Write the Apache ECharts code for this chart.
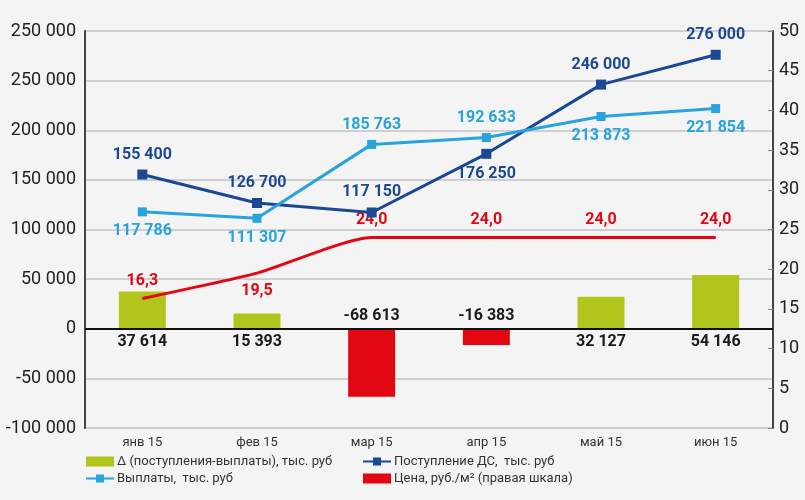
<!DOCTYPE html>
<html>

<head>
    <title>Поступления и выплаты</title>
    <meta charset="utf-8" />
    <script src="https://cdn.jsdelivr.net/npm/echarts@6/dist/echarts.min.js"></script>
    <style type="text/css">
        html,
        body {
            width: 100%;
            height: 100%;
            margin: 0;
            background: #f4f4f4;
        }

        #chart {
            width: 805px;
            height: 500px;
        }
    </style>
</head>

<body>
    <div id="chart"></div>
    <script>
        var categories = ['янв 15', 'фев 15', 'мар 15', 'апр 15', 'май 15', 'июн 15'];
        var delta = [37614, 15393, -68613, -16383, 32127, 54146];
        var inflow = [155400, 126700, 117150, 176250, 246000, 276000];
        var payments = [117786, 111307, 185763, 192633, 213873, 221854];
        var price = [16.3, 19.5, 24.0, 24.0, 24.0, 24.0];
        // labels of the left scale, bottom to top (the top one repeats in the source)
        var leftTicks = ['-100 000', '-50 000', '0', '50 000', '100 000', '150 000', '200 000', '250 000', '250 000'];
        // where each point's label sits
        var inflowPos = ['top', 'top', 'top', 'bottom', 'top', 'top'];
        var paymentsPos = ['bottom', 'bottom', 'top', 'top', 'bottom', 'bottom'];
        var pricePos = ['top', 'bottom', 'top', 'top', 'top', 'top'];

        var names = {
            delta: 'Δ (поступления-выплаты), тыс. руб',
            inflow: 'Поступление ДС,  тыс. руб',
            payments: 'Выплаты,  тыс. руб',
            price: 'Цена, руб./м² (правая шкала)'
        };

        var green = '#b2c51d', red = '#e30613', dark = '#1a4895', light = '#27a3dd';
        var font = 'Roboto, "Noto Sans", sans-serif';

        function fmt(v) {
            return String(v).replace(/\B(?=(\d{3})+(?!\d))/g, ' ');
        }

        function lineData(values, pos) {
            return values.map(function (v, i) {
                return { value: v, label: { position: pos[i] } };
            });
        }

        var chart = echarts.init(document.getElementById('chart'));

        var legendBase = {
            top: 455, orient: 'vertical', itemGap: 4, padding: 0,
            itemWidth: 28, itemHeight: 10,
            textStyle: { fontSize: 13, color: '#333', fontFamily: font, padding: [0, 0, 0, -2] }
        };

        var option = {
            backgroundColor: '#f4f4f4',
            textStyle: { fontFamily: font },
            animation: false,
            grid: { left: 85, right: 32, top: 31, bottom: 72 },
            legend: [Object.assign({}, legendBase, {
                left: 85,
                data: [
                    { name: names.delta, icon: 'rect', itemStyle: { color: green } },
                    { name: names.payments }
                ]
            }), Object.assign({}, legendBase, {
                left: 362,
                data: [
                    { name: names.inflow },
                    { name: names.price, icon: 'rect', itemStyle: { color: red } }
                ]
            })],
            xAxis: {
                type: 'category',
                data: categories,
                axisLine: { show: false },
                axisTick: { show: false },
                axisLabel: { color: '#333', fontSize: 13, margin: 8 }
            },
            yAxis: [{
                type: 'value',
                min: -100000, max: 300000, interval: 50000,
                axisLine: { show: true, lineStyle: { color: '#444', width: 2 } },
                axisTick: { show: false },
                splitLine: { lineStyle: { color: '#cfcfcf', width: 2 } },
                axisLabel: {
                    color: '#222', fontSize: 18, margin: 9,
                    formatter: function (v) {
                        return leftTicks[Math.round((v + 100000) / 50000)];
                    }
                }
            }, {
                type: 'value',
                min: 0, max: 50, interval: 5,
                position: 'right',
                axisLine: { show: true, lineStyle: { color: '#444', width: 2 } },
                axisTick: { show: true, inside: true, length: 5, lineStyle: { color: '#888' } },
                splitLine: { show: false },
                axisLabel: { color: '#222', fontSize: 18, margin: 6 }
            }],
            series: [{
                name: names.delta,
                type: 'bar',
                barWidth: 47,
                itemStyle: { color: green },
                data: delta.map(function (v) {
                    return {
                        value: v,
                        itemStyle: { color: v < 0 ? red : green },
                        label: { position: v < 0 ? 'top' : 'bottom' }
                    };
                }),
                label: {
                    show: true, color: '#1a1a1a', fontSize: 16, fontWeight: 'bold', distance: 5,
                    formatter: function (p) { return fmt(p.value); }
                },
                markLine: {
                    silent: true, symbol: 'none', label: { show: false },
                    lineStyle: { color: '#111', width: 2, type: 'solid' },
                    data: [{ yAxis: 0 }]
                },
                z: 2
            }, {
                name: names.inflow,
                type: 'line',
                data: lineData(inflow, inflowPos),
                symbol: 'rect', symbolSize: 10,
                lineStyle: { color: dark, width: 3 },
                itemStyle: { color: dark },
                label: {
                    show: true, color: dark, fontSize: 16, fontWeight: 'bold', distance: 7,
                    formatter: function (p) { return fmt(p.value); }
                },
                z: 4
            }, {
                name: names.payments,
                type: 'line',
                data: lineData(payments, paymentsPos),
                symbol: 'rect', symbolSize: 9,
                lineStyle: { color: light, width: 3 },
                itemStyle: { color: light },
                label: {
                    show: true, color: light, fontSize: 16, fontWeight: 'bold', distance: 7,
                    formatter: function (p) { return fmt(p.value); }
                },
                z: 4
            }, {
                name: names.price,
                type: 'line',
                yAxisIndex: 1,
                smooth: 0.2,
                data: lineData(price, pricePos),
                showSymbol: true,
                symbol: 'circle',
                symbolSize: 1,
                lineStyle: { color: red, width: 3 },
                itemStyle: { color: red },
                label: {
                    show: true, color: red, fontSize: 16, fontWeight: 'bold', distance: 9,
                    formatter: function (p) { return p.value.toFixed(1).replace('.', ','); }
                },
                z: 3
            }]
        };

        chart.setOption(option);
    </script>
</body>

</html>
